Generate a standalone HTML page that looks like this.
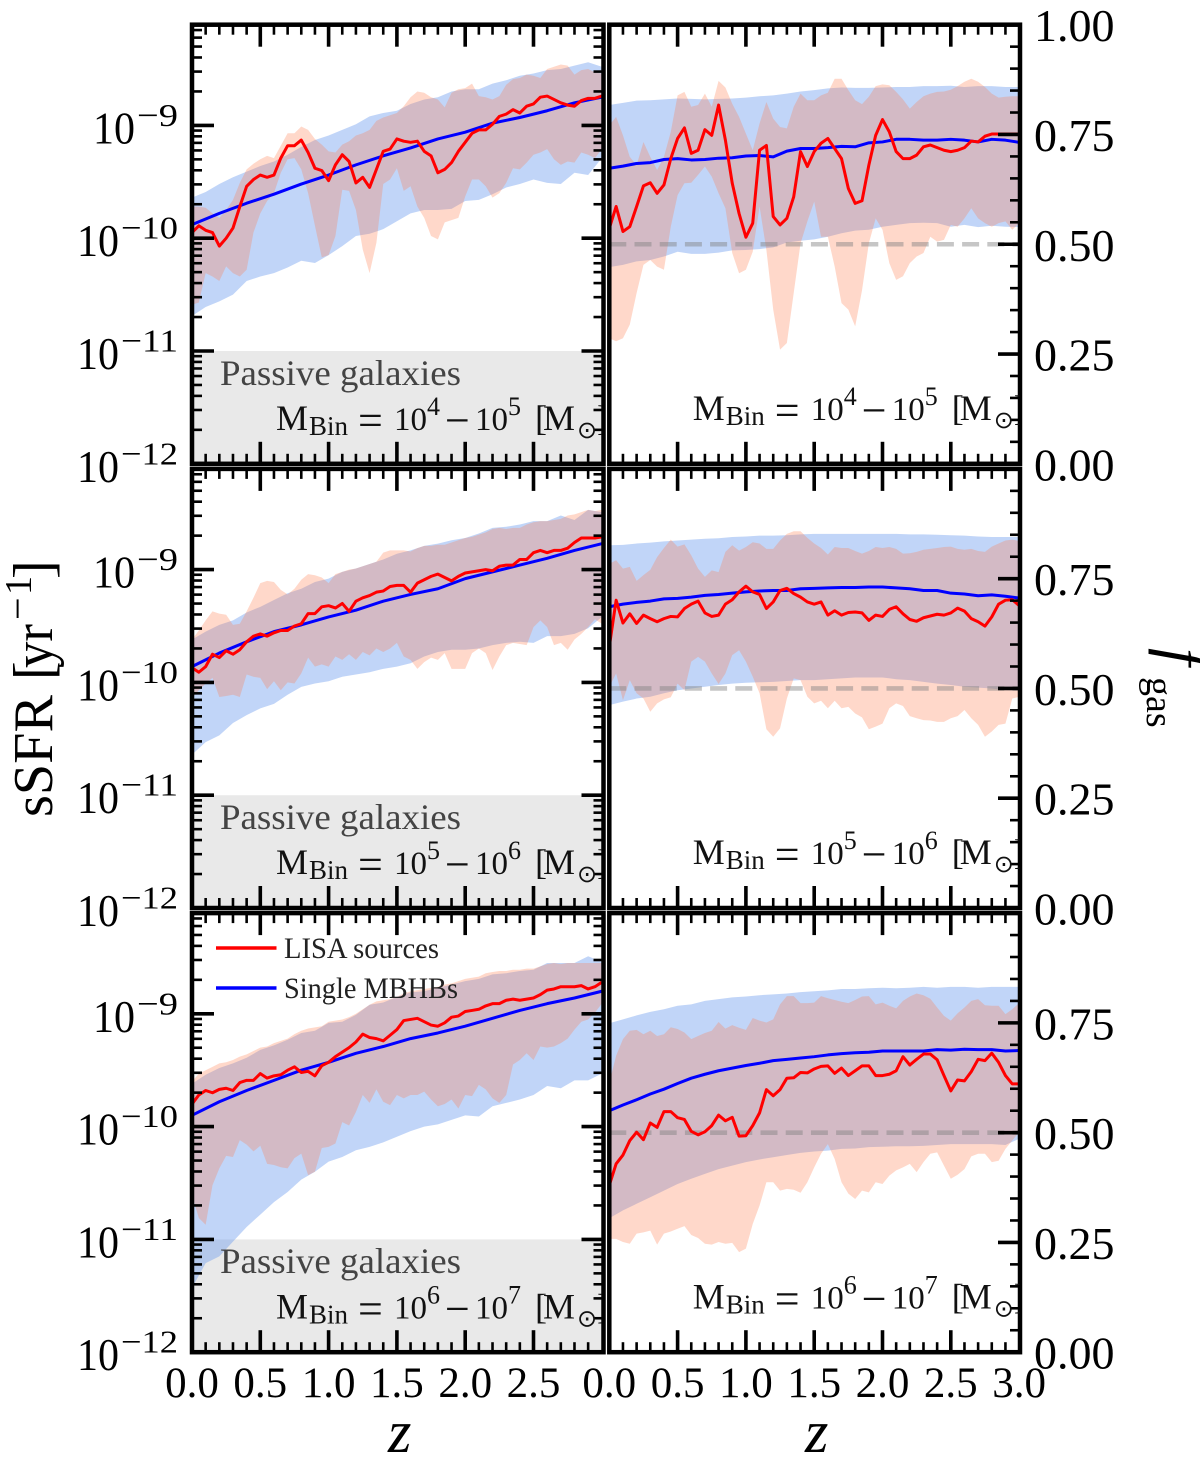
<!DOCTYPE html>
<html lang="en">
<head>
<meta charset="utf-8">
<title>sSFR and gas fraction of LISA sources versus redshift</title>
<style>
html,body{margin:0;padding:0;background:#fff;}
svg{display:block;}
text{font-family:"Liberation Serif","DejaVu Serif",serif;fill:#000;}
.ann{font-size:36px;fill:#111;}
.ann .num{font-size:33px;}
.ann .sub{font-size:27px;}
.ann .sup{font-size:26px;}
.ann .op{font-size:44px;}
.ann .sun{font-size:24px;font-family:"DejaVu Sans",sans-serif;}
.passive{font-size:36px;fill:#444;}
.legend-text{font-size:30px;fill:#222;}
</style>
</head>
<body>
<svg id="figure" xmlns="http://www.w3.org/2000/svg" width="1200" height="1467" viewBox="0 0 1200 1467">
<defs>
<clipPath id="col0"><rect x="192" y="0" width="410" height="1467"/></clipPath>
<clipPath id="col1"><rect x="609" y="0" width="410.5" height="1467"/></clipPath>
</defs>
<g id="plots"></g>
<g id="tick-labels"></g>

<g transform="translate(52,817) rotate(-90)">
<text x="0" y="0" font-size="56" textLength="122" lengthAdjust="spacingAndGlyphs">sSFR</text>
<text x="137" y="0" font-size="56">[</text>
<text x="149" y="0" font-size="56" textLength="44" lengthAdjust="spacingAndGlyphs">yr</text>
<text x="197" y="-21" font-size="40">−</text>
<text x="222" y="-21" font-size="38">1</text>
<text x="238" y="0" font-size="56">]</text>
</g>
<g transform="translate(1162,648) rotate(90)">
<text x="0" y="0" font-size="64" font-style="italic">f</text>
<text x="29" y="15" font-size="38">gas</text>
</g>
<text x="388" y="1452" font-size="60" font-style="italic">z</text>
<text x="805" y="1452" font-size="60" font-style="italic">z</text>

<text class="passive" x="220" y="385" textLength="241" lengthAdjust="spacingAndGlyphs">Passive galaxies</text>
<text class="passive" x="220" y="829" textLength="241" lengthAdjust="spacingAndGlyphs">Passive galaxies</text>
<text class="passive" x="220" y="1273" textLength="241" lengthAdjust="spacingAndGlyphs">Passive galaxies</text>

<g clip-path="url(#col0)">
<text class="ann" transform="translate(276,430)"><tspan x="0" y="0">M</tspan><tspan class="sub" x="33" y="5">Bin</tspan><tspan class="op" x="82" y="5">=</tspan><tspan class="num" x="118" y="0">10</tspan><tspan class="sup" x="151" y="-15">4</tspan><tspan class="op" x="169" y="5">−</tspan><tspan class="num" x="199" y="0">10</tspan><tspan class="sup" x="232" y="-15">5</tspan><tspan x="259" y="0">[</tspan><tspan x="267" y="0">M</tspan><tspan class="sun" x="301" y="8">⊙</tspan><tspan x="321" y="0">]</tspan></text>
<text class="ann" transform="translate(276,874.2)"><tspan x="0" y="0">M</tspan><tspan class="sub" x="33" y="5">Bin</tspan><tspan class="op" x="82" y="5">=</tspan><tspan class="num" x="118" y="0">10</tspan><tspan class="sup" x="151" y="-15">5</tspan><tspan class="op" x="169" y="5">−</tspan><tspan class="num" x="199" y="0">10</tspan><tspan class="sup" x="232" y="-15">6</tspan><tspan x="259" y="0">[</tspan><tspan x="267" y="0">M</tspan><tspan class="sun" x="301" y="8">⊙</tspan><tspan x="321" y="0">]</tspan></text>
<text class="ann" transform="translate(276,1318.4)"><tspan x="0" y="0">M</tspan><tspan class="sub" x="33" y="5">Bin</tspan><tspan class="op" x="82" y="5">=</tspan><tspan class="num" x="118" y="0">10</tspan><tspan class="sup" x="151" y="-15">6</tspan><tspan class="op" x="169" y="5">−</tspan><tspan class="num" x="199" y="0">10</tspan><tspan class="sup" x="232" y="-15">7</tspan><tspan x="259" y="0">[</tspan><tspan x="267" y="0">M</tspan><tspan class="sun" x="301" y="8">⊙</tspan><tspan x="321" y="0">]</tspan></text>
</g>
<g clip-path="url(#col1)">
<text class="ann" transform="translate(692.7,420)"><tspan x="0" y="0">M</tspan><tspan class="sub" x="33" y="5">Bin</tspan><tspan class="op" x="82" y="5">=</tspan><tspan class="num" x="118" y="0">10</tspan><tspan class="sup" x="151" y="-15">4</tspan><tspan class="op" x="169" y="5">−</tspan><tspan class="num" x="199" y="0">10</tspan><tspan class="sup" x="232" y="-15">5</tspan><tspan x="259" y="0">[</tspan><tspan x="267" y="0">M</tspan><tspan class="sun" x="301" y="8">⊙</tspan><tspan x="321" y="0">]</tspan></text>
<text class="ann" transform="translate(692.7,864.2)"><tspan x="0" y="0">M</tspan><tspan class="sub" x="33" y="5">Bin</tspan><tspan class="op" x="82" y="5">=</tspan><tspan class="num" x="118" y="0">10</tspan><tspan class="sup" x="151" y="-15">5</tspan><tspan class="op" x="169" y="5">−</tspan><tspan class="num" x="199" y="0">10</tspan><tspan class="sup" x="232" y="-15">6</tspan><tspan x="259" y="0">[</tspan><tspan x="267" y="0">M</tspan><tspan class="sun" x="301" y="8">⊙</tspan><tspan x="321" y="0">]</tspan></text>
<text class="ann" transform="translate(692.7,1308.4)"><tspan x="0" y="0">M</tspan><tspan class="sub" x="33" y="5">Bin</tspan><tspan class="op" x="82" y="5">=</tspan><tspan class="num" x="118" y="0">10</tspan><tspan class="sup" x="151" y="-15">6</tspan><tspan class="op" x="169" y="5">−</tspan><tspan class="num" x="199" y="0">10</tspan><tspan class="sup" x="232" y="-15">7</tspan><tspan x="259" y="0">[</tspan><tspan x="267" y="0">M</tspan><tspan class="sun" x="301" y="8">⊙</tspan><tspan x="321" y="0">]</tspan></text>
</g>

<g>
<line x1="216" x2="276.5" y1="948" y2="948" stroke="#ff0000" stroke-width="3.4"/>
<text class="legend-text" x="284" y="958" textLength="155" lengthAdjust="spacingAndGlyphs">LISA sources</text>
<line x1="216" x2="276.5" y1="988" y2="988" stroke="#0000ff" stroke-width="3.4"/>
<text class="legend-text" x="284" y="998" textLength="174" lengthAdjust="spacingAndGlyphs">Single MBHBs</text>
</g>
</svg>

<script>
// Values. Left panels: log10(sSFR / yr^-1). Right panels: f_gas.
// Every array spans z = 0..3 evenly, whatever its length.
const xTickLabels = ["0.0","0.5","1.0","1.5","2.0","2.5"];
const xTickLabelsLast = ["0.0","0.5","1.0","1.5","2.0","2.5","3.0"];
const xMajorTicks = [0,0.5,1,1.5,2,2.5,3];
const logDecades = [-12,-11,-10,-9,-8];
const logMinorFactors = [2,3,4,5,6,7,8,9];
const fgasMajorTicks = [0,0.25,0.5,0.75,1];
const fgasTickLabels = ["0.00","0.25","0.50","0.75","1.00"];
const logTickLabels = [-9,-10,-11,-12];
const passiveCeiling = -11;
const gasThreshold = 0.5;

// Row 1, left: M_bin 1e4-1e5
const sfr1BlueLine = [-9.88,-9.78,-9.69,-9.61,-9.52,-9.44,-9.35,-9.27,-9.20,-9.12,-9.06,-8.98,-8.93,-8.87,-8.80,-8.75];
const sfr1BlueHigh = [-9.64,-9.59,-9.52,-9.46,-9.41,-9.36,-9.32,-9.26,-9.19,-9.13,-9.09,-9.04,-8.99,-8.92,-8.89,-8.87,-8.81,-8.77,-8.75,-8.70,-8.68,-8.68,-8.63,-8.60,-8.56,-8.54,-8.51,-8.50,-8.47,-8.44,-8.48];
const sfr1BlueLow = [-10.69,-10.61,-10.56,-10.50,-10.38,-10.34,-10.31,-10.26,-10.20,-10.22,-10.15,-10.07,-9.98,-9.96,-9.92,-9.85,-9.78,-9.75,-9.75,-9.74,-9.67,-9.66,-9.61,-9.55,-9.52,-9.48,-9.51,-9.52,-9.42,-9.44,-9.29];
const sfr1RedLine = [-9.95,-9.89,-9.93,-9.95,-10.07,-10.00,-9.91,-9.72,-9.54,-9.48,-9.44,-9.46,-9.44,-9.29,-9.18,-9.18,-9.13,-9.24,-9.38,-9.40,-9.49,-9.35,-9.26,-9.32,-9.51,-9.46,-9.55,-9.39,-9.23,-9.21,-9.12,-9.14,-9.15,-9.14,-9.23,-9.27,-9.42,-9.39,-9.33,-9.23,-9.15,-9.07,-9.04,-9.04,-8.99,-8.92,-8.90,-8.86,-8.89,-8.83,-8.81,-8.75,-8.74,-8.77,-8.80,-8.82,-8.83,-8.78,-8.76,-8.76,-8.74];
const sfr1RedHigh = [-9.72,-9.72,-9.73,-9.78,-9.82,-9.75,-9.66,-9.51,-9.39,-9.34,-9.30,-9.27,-9.29,-9.18,-9.07,-9.07,-9.01,-9.04,-9.12,-9.17,-9.23,-9.24,-9.17,-9.14,-9.09,-9.07,-9.04,-8.96,-8.93,-8.91,-8.89,-8.83,-8.75,-8.70,-8.71,-8.75,-8.77,-8.84,-8.71,-8.68,-8.67,-8.63,-8.74,-8.75,-8.77,-8.74,-8.64,-8.59,-8.58,-8.55,-8.56,-8.58,-8.50,-8.48,-8.46,-8.47,-8.55,-8.51,-8.50,-8.53,-8.54];
const sfr1RedLow = [-10.59,-10.57,-10.31,-10.34,-10.38,-10.25,-10.31,-10.34,-10.28,-9.95,-9.78,-9.67,-9.60,-9.42,-9.30,-9.29,-9.39,-9.60,-9.89,-10.17,-10.15,-9.98,-9.57,-9.58,-9.75,-10.10,-10.31,-10.04,-9.52,-9.48,-9.38,-9.58,-9.54,-9.72,-9.82,-9.98,-10.01,-9.86,-9.84,-9.82,-9.63,-9.48,-9.48,-9.54,-9.64,-9.60,-9.51,-9.38,-9.39,-9.33,-9.26,-9.24,-9.21,-9.30,-9.35,-9.32,-9.33,-9.24,-9.26,-9.29,-9.21];

// Row 1, right
const gas1BlueLine = [.673,.678,.684,.686,.693,.695,.692,.693,.696,.697,.701,.702,.699,.712,.718,.718,.720,.723,.722,.731,.733,.739,.739,.737,.737,.739,.737,.733,.739,.737,.732];
const gas1BlueHigh = [.817,.822,.827,.828,.830,.832,.831,.830,.831,.832,.834,.837,.839,.843,.848,.851,.855,.857,.856,.856,.857,.858,.858,.860,.860,.861,.858,.860,.860,.858,.858];
const gas1BlueLow = [.448,.453,.461,.464,.472,.483,.478,.478,.481,.486,.487,.489,.493,.504,.508,.511,.517,.525,.531,.533,.540,.544,.548,.549,.548,.540,.544,.539,.542,.540,.539];
const gas1RedLine = [.536,.586,.529,.540,.586,.633,.640,.616,.635,.695,.741,.765,.707,.714,.761,.748,.817,.737,.639,.570,.516,.548,.714,.725,.563,.544,.559,.608,.711,.677,.711,.730,.741,.718,.695,.627,.593,.599,.680,.748,.784,.756,.711,.695,.695,.703,.722,.726,.720,.714,.711,.714,.720,.735,.733,.746,.751,.751,.751,.751,.751];
const gas1RedHigh = [.771,.790,.748,.699,.680,.733,.699,.669,.699,.756,.839,.847,.813,.817,.843,.813,.872,.857,.820,.790,.752,.714,.775,.824,.786,.767,.764,.813,.843,.828,.828,.839,.845,.877,.877,.851,.828,.819,.836,.860,.864,.862,.847,.830,.809,.824,.837,.843,.847,.848,.852,.860,.870,.877,.870,.858,.843,.834,.836,.837,.837];
const gas1RedLow = [.286,.279,.286,.317,.389,.453,.464,.449,.442,.540,.612,.639,.640,.658,.677,.654,.616,.582,.480,.434,.442,.483,.586,.487,.351,.260,.275,.389,.502,.552,.597,.517,.517,.449,.366,.351,.313,.395,.502,.559,.533,.457,.419,.427,.457,.472,.480,.517,.506,.510,.544,.540,.559,.582,.559,.548,.540,.548,.552,.533,.548];

// Row 2, left: M_bin 1e5-1e6
const sfr2BlueLine = [-9.86,-9.74,-9.64,-9.55,-9.49,-9.42,-9.36,-9.28,-9.22,-9.17,-9.08,-9.02,-8.96,-8.90,-8.83,-8.77];
const sfr2BlueHigh = [-9.62,-9.55,-9.49,-9.45,-9.38,-9.33,-9.27,-9.21,-9.17,-9.11,-9.08,-9.02,-8.99,-8.95,-8.91,-8.86,-8.83,-8.79,-8.77,-8.74,-8.72,-8.68,-8.63,-8.62,-8.60,-8.57,-8.57,-8.52,-8.56,-8.47,-8.49];
const sfr2BlueLow = [-10.64,-10.53,-10.47,-10.36,-10.29,-10.23,-10.19,-10.11,-10.04,-10.01,-9.99,-9.95,-9.93,-9.91,-9.88,-9.86,-9.83,-9.77,-9.73,-9.71,-9.71,-9.70,-9.67,-9.65,-9.64,-9.65,-9.59,-9.59,-9.57,-9.52,-9.42];
const sfr2RedLine = [-9.87,-9.91,-9.86,-9.75,-9.78,-9.72,-9.75,-9.71,-9.64,-9.59,-9.57,-9.59,-9.56,-9.54,-9.54,-9.50,-9.48,-9.39,-9.39,-9.33,-9.32,-9.34,-9.30,-9.37,-9.28,-9.25,-9.23,-9.20,-9.19,-9.15,-9.14,-9.14,-9.20,-9.12,-9.09,-9.06,-9.04,-9.07,-9.10,-9.06,-9.03,-9.02,-9.01,-9.00,-9.01,-8.97,-8.96,-8.96,-8.91,-8.91,-8.85,-8.83,-8.85,-8.83,-8.83,-8.81,-8.76,-8.72,-8.72,-8.72,-8.71];
const sfr2RedHigh = [-9.62,-9.54,-9.45,-9.37,-9.39,-9.40,-9.49,-9.48,-9.37,-9.25,-9.12,-9.10,-9.11,-9.18,-9.22,-9.17,-9.09,-9.04,-9.05,-9.07,-9.12,-9.04,-9.02,-9.00,-8.99,-8.97,-8.95,-8.93,-8.85,-8.83,-8.83,-8.83,-8.84,-8.81,-8.79,-8.79,-8.78,-8.78,-8.76,-8.74,-8.72,-8.71,-8.69,-8.67,-8.64,-8.63,-8.64,-8.63,-8.63,-8.60,-8.58,-8.57,-8.57,-8.56,-8.55,-8.52,-8.51,-8.49,-8.47,-8.48,-8.47];
const sfr2RedLow = [-10.14,-10.07,-10.01,-9.96,-10.13,-10.12,-10.11,-10.13,-9.93,-9.95,-9.96,-10.06,-9.99,-10.07,-10.00,-10.01,-9.92,-9.78,-9.86,-9.84,-9.86,-9.77,-9.80,-9.75,-9.80,-9.73,-9.76,-9.70,-9.73,-9.70,-9.65,-9.77,-9.80,-9.88,-9.82,-9.78,-9.80,-9.74,-9.88,-9.88,-9.88,-9.74,-9.70,-9.74,-9.89,-9.77,-9.67,-9.65,-9.66,-9.67,-9.51,-9.45,-9.51,-9.67,-9.65,-9.71,-9.62,-9.57,-9.51,-9.44,-9.48];

// Row 2, right
const gas2BlueLine = [.686,.692,.696,.699,.704,.705,.708,.712,.714,.717,.720,.722,.723,.723,.727,.728,.729,.730,.730,.731,.731,.729,.727,.723,.723,.717,.715,.711,.713,.710,.706];
const gas2BlueHigh = [.826,.827,.830,.832,.835,.837,.839,.841,.842,.845,.846,.848,.848,.849,.851,.852,.852,.852,.852,.852,.852,.852,.851,.851,.850,.849,.848,.846,.845,.845,.845];
const gas2BlueLow = [.462,.470,.477,.481,.489,.496,.500,.504,.508,.511,.513,.514,.515,.517,.519,.519,.521,.523,.525,.525,.525,.521,.519,.515,.511,.508,.504,.502,.500,.496,.495];
const gas2RedLine = [.595,.701,.649,.670,.648,.667,.659,.652,.659,.664,.663,.682,.692,.699,.672,.664,.667,.692,.702,.720,.733,.720,.714,.682,.697,.723,.728,.716,.708,.697,.692,.697,.667,.677,.667,.673,.674,.672,.655,.667,.664,.680,.686,.670,.657,.653,.661,.665,.669,.667,.672,.683,.676,.659,.652,.642,.663,.692,.701,.702,.689];
const gas2RedHigh = [.784,.792,.773,.777,.745,.758,.770,.799,.820,.839,.823,.828,.803,.773,.754,.769,.765,.811,.826,.814,.822,.833,.830,.818,.818,.837,.852,.858,.858,.843,.830,.820,.805,.822,.820,.820,.813,.807,.813,.822,.820,.822,.818,.807,.808,.811,.816,.818,.820,.822,.823,.818,.816,.818,.813,.811,.823,.830,.837,.839,.836];
const gas2RedLow = [.504,.534,.473,.519,.489,.477,.447,.466,.475,.480,.511,.496,.561,.572,.561,.534,.510,.534,.576,.587,.561,.527,.489,.407,.390,.409,.477,.523,.519,.481,.466,.472,.455,.472,.455,.458,.443,.434,.407,.413,.420,.455,.466,.460,.437,.432,.428,.427,.424,.424,.432,.437,.451,.432,.417,.390,.402,.417,.420,.477,.481];

// Row 3, left: M_bin 1e6-1e7
const sfr3BlueLine = [-9.90,-9.78,-9.68,-9.59,-9.50,-9.43,-9.35,-9.29,-9.22,-9.17,-9.11,-9.04,-8.97,-8.91,-8.86,-8.80];
const sfr3BlueHigh = [-9.62,-9.54,-9.48,-9.44,-9.39,-9.32,-9.28,-9.23,-9.17,-9.15,-9.08,-9.07,-9.01,-8.92,-8.90,-8.85,-8.81,-8.80,-8.77,-8.74,-8.71,-8.69,-8.65,-8.64,-8.62,-8.61,-8.55,-8.55,-8.55,-8.49,-8.54];
const sfr3BlueLow = [-11.43,-11.21,-11.15,-11.02,-10.89,-10.78,-10.67,-10.58,-10.47,-10.40,-10.31,-10.27,-10.21,-10.18,-10.14,-10.09,-10.04,-10.00,-9.98,-9.94,-9.90,-9.91,-9.82,-9.79,-9.76,-9.72,-9.64,-9.66,-9.59,-9.59,-9.53];
const sfr3RedLine = [-9.80,-9.72,-9.68,-9.70,-9.67,-9.66,-9.68,-9.61,-9.59,-9.59,-9.53,-9.57,-9.55,-9.54,-9.50,-9.47,-9.52,-9.51,-9.55,-9.46,-9.43,-9.38,-9.34,-9.30,-9.25,-9.18,-9.21,-9.22,-9.24,-9.19,-9.14,-9.06,-9.05,-9.04,-9.07,-9.10,-9.11,-9.08,-9.03,-9.02,-8.98,-8.97,-8.96,-8.93,-8.91,-8.91,-8.88,-8.87,-8.88,-8.87,-8.86,-8.83,-8.79,-8.78,-8.76,-8.76,-8.76,-8.75,-8.78,-8.76,-8.72];
const sfr3RedHigh = [-9.60,-9.53,-9.50,-9.47,-9.44,-9.43,-9.41,-9.38,-9.36,-9.33,-9.30,-9.29,-9.26,-9.24,-9.22,-9.18,-9.15,-9.13,-9.12,-9.11,-9.07,-9.06,-9.05,-9.03,-9.00,-8.96,-8.92,-8.89,-8.88,-8.87,-8.85,-8.82,-8.80,-8.79,-8.78,-8.77,-8.76,-8.74,-8.73,-8.71,-8.69,-8.68,-8.67,-8.64,-8.63,-8.62,-8.62,-8.61,-8.61,-8.60,-8.60,-8.58,-8.56,-8.55,-8.56,-8.55,-8.55,-8.55,-8.55,-8.55,-8.55];
const sfr3RedLow = [-10.61,-10.81,-10.87,-10.52,-10.37,-10.26,-10.27,-10.12,-10.16,-10.22,-10.17,-10.33,-10.34,-10.36,-10.37,-10.28,-10.24,-10.43,-10.40,-10.19,-10.18,-10.15,-9.96,-9.99,-9.87,-9.72,-9.79,-9.67,-9.78,-9.81,-9.72,-9.75,-9.72,-9.72,-9.69,-9.76,-9.82,-9.80,-9.76,-9.84,-9.72,-9.73,-9.63,-9.67,-9.75,-9.79,-9.72,-9.45,-9.41,-9.35,-9.41,-9.29,-9.30,-9.29,-9.26,-9.22,-9.14,-9.07,-9.05,-8.99,-8.91];

// Row 3, right
const gas3BlueLine = [.550,.563,.575,.588,.599,.612,.624,.633,.641,.647,.653,.658,.664,.667,.670,.673,.677,.680,.682,.683,.686,.686,.686,.686,.689,.688,.690,.689,.689,.686,.687];
const gas3BlueHigh = [.749,.758,.767,.775,.781,.789,.792,.800,.804,.808,.810,.813,.815,.817,.820,.822,.824,.827,.827,.829,.830,.829,.830,.832,.830,.832,.832,.830,.832,.832,.832];
const gas3BlueLow = [.305,.323,.338,.353,.368,.383,.395,.406,.417,.425,.433,.439,.444,.449,.454,.457,.459,.463,.464,.467,.468,.469,.469,.470,.472,.474,.474,.474,.474,.472,.486];
const gas3RedLine = [.380,.429,.449,.482,.501,.484,.522,.512,.548,.548,.534,.530,.503,.495,.502,.516,.540,.527,.535,.492,.493,.516,.545,.598,.584,.598,.624,.625,.637,.636,.645,.651,.652,.635,.647,.630,.641,.652,.652,.630,.630,.633,.641,.673,.654,.667,.679,.679,.666,.630,.595,.620,.618,.639,.667,.664,.681,.660,.630,.611,.611];
const gas3RedHigh = [.614,.675,.713,.732,.734,.724,.732,.720,.724,.740,.736,.728,.713,.720,.727,.732,.752,.737,.745,.739,.734,.761,.755,.751,.758,.792,.811,.811,.795,.795,.796,.811,.806,.802,.798,.795,.802,.810,.811,.792,.796,.789,.783,.800,.810,.817,.813,.805,.785,.766,.755,.772,.785,.800,.804,.790,.789,.789,.770,.781,.795];
const gas3RedLow = [.258,.258,.251,.247,.270,.273,.277,.245,.270,.275,.281,.287,.267,.260,.247,.245,.251,.247,.249,.228,.236,.292,.334,.387,.387,.368,.372,.370,.363,.387,.421,.452,.474,.440,.387,.361,.349,.368,.364,.387,.383,.402,.414,.421,.429,.410,.433,.452,.455,.425,.395,.404,.417,.446,.452,.452,.433,.436,.463,.482,.501];

const SVGNS = "http://www.w3.org/2000/svg";
const ROW_STEP = 444.2, PANEL_TOP = 24.7, PANEL_BOTTOM = 463.8, DECADE_PX = 112.8;
const COL_X0 = [192, 609.3], COL_X1 = [603.5, 1020], Z_PX = 136.6;
const plots = document.getElementById("plots");
const labelLayer = document.getElementById("tick-labels");

function el(parent, tag, attrs, text) {
  const node = document.createElementNS(SVGNS, tag);
  for (const k in attrs) node.setAttribute(k, attrs[k]);
  if (text !== undefined) node.textContent = text;
  parent.appendChild(node);
  return node;
}
function xScale(col, z) { return COL_X0[col] + Z_PX * z; }
function yLog(row, v) { return PANEL_BOTTOM + ROW_STEP * row - (v + 12) * DECADE_PX; }
function yLin(row, f) { const b = PANEL_BOTTOM + ROW_STEP * row; return b - f * (PANEL_BOTTOM - PANEL_TOP); }
function curve(values, col, yFn) {
  return values.map(function (v, i) {
    return xScale(col, 3 * i / (values.length - 1)).toFixed(2) + "," + yFn(v).toFixed(2);
  });
}
function drawPanel(row, col, yFn, series) {
  const top = PANEL_TOP + ROW_STEP * row, bottom = PANEL_BOTTOM + ROW_STEP * row;
  const x0 = COL_X0[col], x1 = COL_X1[col];
  const g = el(plots, "g", {});
  
  
  const cp = el(g, "clipPath", { id: "clip-" + row + "-" + col });
  el(cp, "rect", { x: x0, y: top, width: x1 - x0, height: bottom - top });
  const inner = el(g, "g", { "clip-path": "url(#clip-" + row + "-" + col + ")" });

  if (col === 0) {
    const passive = el(inner, "rect", { x: x0, y: yFn(passiveCeiling), width: x1 - x0, height: bottom - yFn(passiveCeiling), fill: "#e9e9e9" });
    
    
  }
  const blueBand = el(inner, "polygon", {
    points: curve(series.blueHigh, col, yFn).concat(curve(series.blueLow, col, yFn).reverse()).join(" "),
    fill: "rgb(100,149,237)", "fill-opacity": "0.4"
  });
  
  
  const redBand = el(inner, "polygon", {
    points: curve(series.redHigh, col, yFn).concat(curve(series.redLow, col, yFn).reverse()).join(" "),
    fill: "rgb(255,127,80)", "fill-opacity": "0.3"
  });
  
  
  if (col === 1) {
    const dash = el(inner, "line", { x1: x0, x2: x1, y1: yFn(gasThreshold), y2: yFn(gasThreshold), stroke: "#808080", "stroke-opacity": "0.45", "stroke-width": "4.6", "stroke-dasharray": "17 8.2" });
    
    
  }
  const blueLine = el(inner, "polyline", { points: curve(series.blueLine, col, yFn).join(" "), fill: "none", stroke: "#0000ff", "stroke-width": "3", "stroke-linejoin": "round" });
  
  
  const redLine = el(inner, "polyline", { points: curve(series.redLine, col, yFn).join(" "), fill: "none", stroke: "#ff0000", "stroke-width": "3", "stroke-linejoin": "round" });
  
  

  const ticks = el(g, "g", { stroke: "#000" });
  
  
  function tick(x1t, y1t, x2t, y2t, major) {
    el(ticks, "line", { x1: x1t, y1: y1t, x2: x2t, y2: y2t, "stroke-width": major ? 3.6 : 2.6 });
  }
  // x ticks, top and bottom
  for (let i = 1; i < 30; i++) {
    const z = i / 10, x = xScale(col, z), major = i % 5 === 0, len = major ? 22 : 10;
    tick(x, bottom, x, bottom - len, major);
    tick(x, top, x, top + len, major);
  }
  // y ticks
  if (col === 0) {
    logDecades.forEach(function (d) {
      if (d > -12 && d < -8) { const y = yFn(d); tick(x0, y, x0 + 22, y, true); tick(x1, y, x1 - 22, y, true); }
      logMinorFactors.forEach(function (m) {
        const y = yFn(d + Math.log10(m));
        if (y > top + 1 && y < bottom - 1) { tick(x0, y, x0 + 10, y, false); tick(x1, y, x1 - 10, y, false); }
      });
    });
  } else {
    for (let i = 1; i < 20; i++) {
      const f = i / 20, y = yFn(f), major = i % 5 === 0;
      tick(x1, y, x1 - (major ? 22 : 10), y, major);
    }
  }
  const frame = el(g, "rect", { x: x0, y: top, width: x1 - x0, height: bottom - top, fill: "none", stroke: "#000", "stroke-width": "4.5" });
  
  
}

const panelSeries = [
  [{ blueLine: sfr1BlueLine, blueHigh: sfr1BlueHigh, blueLow: sfr1BlueLow, redLine: sfr1RedLine, redHigh: sfr1RedHigh, redLow: sfr1RedLow },
   { blueLine: gas1BlueLine, blueHigh: gas1BlueHigh, blueLow: gas1BlueLow, redLine: gas1RedLine, redHigh: gas1RedHigh, redLow: gas1RedLow }],
  [{ blueLine: sfr2BlueLine, blueHigh: sfr2BlueHigh, blueLow: sfr2BlueLow, redLine: sfr2RedLine, redHigh: sfr2RedHigh, redLow: sfr2RedLow },
   { blueLine: gas2BlueLine, blueHigh: gas2BlueHigh, blueLow: gas2BlueLow, redLine: gas2RedLine, redHigh: gas2RedHigh, redLow: gas2RedLow }],
  [{ blueLine: sfr3BlueLine, blueHigh: sfr3BlueHigh, blueLow: sfr3BlueLow, redLine: sfr3RedLine, redHigh: sfr3RedHigh, redLow: sfr3RedLow },
   { blueLine: gas3BlueLine, blueHigh: gas3BlueHigh, blueLow: gas3BlueLow, redLine: gas3RedLine, redHigh: gas3RedHigh, redLow: gas3RedLow }]
];

panelSeries.forEach(function (rowSeries, row) {
  drawPanel(row, 0, function (v) { return yLog(row, v); }, rowSeries[0]);
  drawPanel(row, 1, function (f) { return yLin(row, f); }, rowSeries[1]);

  // left tick labels
  logTickLabels.forEach(function (exp) {
    const y = yLog(row, exp);
    const two = String(Math.abs(exp)).length === 2;
    const base = el(labelLayer, "text", { x: two ? 77 : 93, y: y + 18, "font-size": 46, textLength: 42, lengthAdjust: "spacingAndGlyphs" }, "10");
    
    
    const sup = el(labelLayer, "text", { x: two ? 121 : 137, y: y + 0.5, "font-size": 32, textLength: two ? 57 : 41, lengthAdjust: "spacingAndGlyphs" }, "−" + Math.abs(exp));
    
    
  });
  // right tick labels
  fgasMajorTicks.forEach(function (f, i) {
    if (f === 1 && row !== 0) return;
    const t = el(labelLayer, "text", { x: 1034, y: yLin(row, f) + 16.5, "font-size": 46 }, fgasTickLabels[i]);
    
    
  });
});

// x tick labels on the bottom row
xTickLabels.forEach(function (s, i) {
  const t = el(labelLayer, "text", { x: xScale(0, xMajorTicks[i]), y: 1397, "font-size": 43, "text-anchor": "middle" }, s);
  
  
});
xTickLabelsLast.forEach(function (s, i) {
  const t = el(labelLayer, "text", { x: xScale(1, xMajorTicks[i]), y: 1397, "font-size": 43, "text-anchor": "middle" }, s);
  
  
});
</script>
</body>
</html>
